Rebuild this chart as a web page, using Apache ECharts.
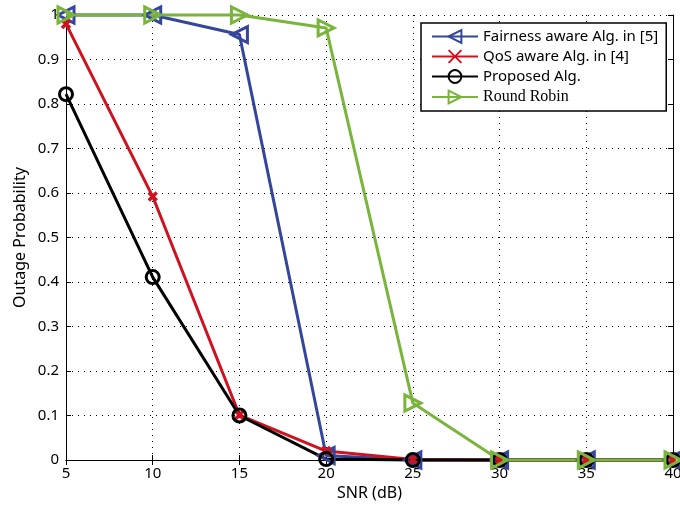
<!DOCTYPE html>
<html>
<head>
<meta charset="utf-8">
<script src="https://cdn.jsdelivr.net/npm/echarts@6/dist/echarts.min.js"></script>
<style>
  html, body { margin: 0; padding: 0; background: #fff; }
  #main { width: 680px; height: 508px; }
</style>
</head>
<body>
<div id="main"></div>
<script>
// data
const snr = [5, 10, 15, 20, 25, 30, 35, 40]
const fairness = [1, 1, 0.956, 0.01, 0, 0, 0, 0]
const qos = [0.98, 0.592, 0.101, 0.02, 0.001, 0, 0, 0]
const proposed = [0.822, 0.411, 0.1, 0.002, 0, 0, 0, 0]
const roundRobin = [1, 1, 1, 0.971, 0.128, 0, 0, 0]
const yTicks = [0, 0.1, 0.2, 0.3, 0.4, 0.5, 0.6, 0.7, 0.8, 0.9, 1]

const sans = 'Noto Sans'
const chart = echarts.init(document.getElementById('main'))

function pairs(ys) {
  return snr.map((x, i) => [x, ys[i]])
}

const frameAxis = {
  axisLine: { show: true, lineStyle: { color: '#000', width: 1 } },
  axisTick: { show: true, inside: true, length: 5, lineStyle: { color: '#000' } },
  axisLabel: { show: false },
  splitLine: { show: false },
}

const option = {
  animation: false,
  backgroundColor: '#fff',
  grid: { left: 66, right: 7, top: 15, bottom: 48, outerBoundsMode: 'none', containLabel: false },
  legend: {
    orient: 'vertical',
    left: 421,
    top: 23,
    padding: [6, 8, 6, 10],
    itemGap: 5,
    itemWidth: 46,
    itemHeight: 16,
    borderColor: '#000',
    borderWidth: 1.5,
    backgroundColor: '#fff',
    textStyle: { fontFamily: sans, fontSize: 15, color: '#000' },
    data: [
      { name: 'Fairness aware Alg. in [5]' },
      { name: 'QoS aware Alg. in [4]' },
      { name: 'Proposed Alg.' },
      { name: 'Round Robin', textStyle: { fontFamily: 'Liberation Serif', fontSize: 16 } },
    ],
  },
  xAxis: [
    {
      type: 'value',
      min: 5,
      max: 40,
      interval: 5,
      name: 'SNR (dB)',
      nameLocation: 'middle',
      nameGap: 25,
      nameMoveOverlap: false,
      nameTextStyle: { fontFamily: sans, fontSize: 16, color: '#000', verticalAlign: 'top' },
      axisLine: { lineStyle: { color: '#000', width: 1 } },
      axisTick: { inside: true, length: 5, lineStyle: { color: '#000' } },
      axisLabel: { fontFamily: sans, fontSize: 15, color: '#000', margin: 6 },
      splitLine: { show: true, lineStyle: { color: '#000', type: [1, 5], width: 1 } },
    },
    Object.assign({ type: 'value', position: 'top', min: 5, max: 40, interval: 5 }, frameAxis),
  ],
  yAxis: [
    {
      type: 'value',
      min: 0,
      max: 1,
      interval: 0.1,
      name: 'Outage Probability',
      nameLocation: 'middle',
      nameGap: 38,
      nameMoveOverlap: false,
      nameTextStyle: { fontFamily: sans, fontSize: 16, color: '#000' },
      axisLine: { show: true, lineStyle: { color: '#000', width: 1 } },
      axisTick: { show: true, inside: true, length: 5, lineStyle: { color: '#000' } },
      axisLabel: {
        fontFamily: sans, fontSize: 15, color: '#000', margin: 7,
        formatter: (v) => {
          const t = yTicks.find((k) => Math.abs(k - v) < 1e-9)
          return t === undefined ? '' : String(t)
        },
      },
      splitLine: { show: true, lineStyle: { color: '#000', type: [1, 5], width: 1 } },
    },
    Object.assign({ type: 'value', position: 'right', min: 0, max: 1, interval: 0.1 }, frameAxis),
  ],
  series: [
    {
      name: 'Fairness aware Alg. in [5]',
      type: 'line',
      data: pairs(fairness),
      clip: false,
      symbol: 'triangle',
      symbolRotate: 90,
      symbolSize: 16,
      lineStyle: { color: '#34469b', width: 3 },
      itemStyle: { color: 'rgba(0,0,0,0)', borderColor: '#34469b', borderWidth: 3 },
    },
    {
      name: 'QoS aware Alg. in [4]',
      type: 'line',
      data: pairs(qos),
      clip: false,
      symbol: 'path://M0,0L10,10M10,0L0,10',
      symbolSize: 8,
      lineStyle: { color: '#d0111e', width: 3 },
      itemStyle: { color: '#d0111e', borderColor: '#d0111e', borderWidth: 3.5 },
    },
    {
      name: 'Proposed Alg.',
      type: 'line',
      data: pairs(proposed),
      clip: false,
      symbol: 'circle',
      symbolSize: 13,
      lineStyle: { color: '#000', width: 3 },
      itemStyle: { color: 'rgba(0,0,0,0)', borderColor: '#000', borderWidth: 3 },
    },
    {
      name: 'Round Robin',
      type: 'line',
      data: pairs(roundRobin),
      clip: false,
      symbol: 'triangle',
      symbolRotate: -90,
      symbolSize: 16,
      lineStyle: { color: '#7ab43c', width: 3 },
      itemStyle: { color: 'rgba(0,0,0,0)', borderColor: '#7ab43c', borderWidth: 3 },
    },
  ],
}

chart.setOption(option)
</script>
</body>
</html>
